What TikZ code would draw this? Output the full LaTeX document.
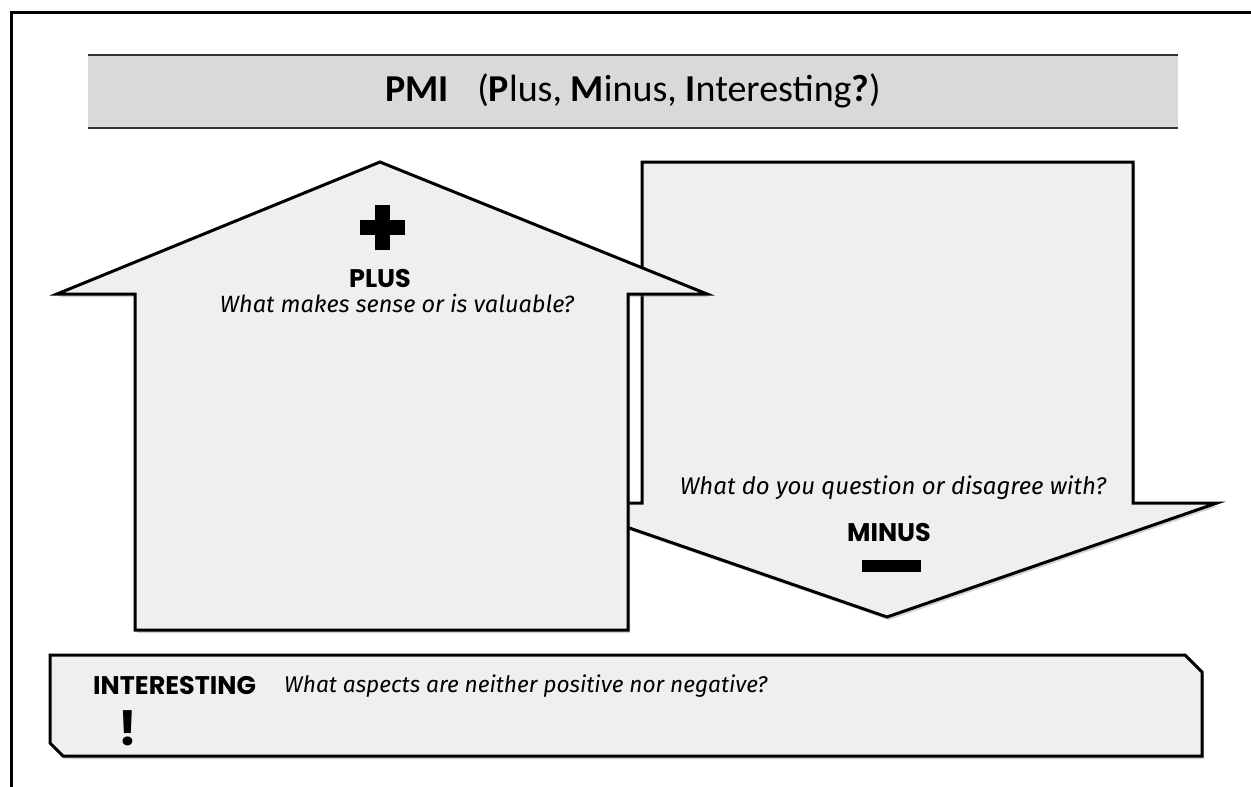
\documentclass[tikz,border=0pt]{standalone}
\usepackage{fontspec}
\setmainfont{Carlito}
\newfontfamily\capsfont{Poppins}
\newfontfamily\itfont{Fira Sans}
\usetikzlibrary{shadows}
\definecolor{panel}{HTML}{EFEFEF}
\definecolor{band}{HTML}{D9D9D9}
\tikzset{
  panelshape/.style={draw=black, line width=3pt, fill=panel, line join=miter,
    drop shadow={opacity=0.35, shadow xshift=2pt, shadow yshift=-3pt}},
  headtxt/.style={font=\capsfont\bfseries\fontsize{25.5}{30}\selectfont, inner sep=0pt},
  qtxt/.style={font=\itfont\itshape\fontsize{23.5}{28}\selectfont, inner sep=0pt},
}
\begin{document}
\begin{tikzpicture}[x=1pt, y=-1pt]
\useasboundingbox (0,0) rectangle (1251,787);
% frame
\draw[line width=3pt] (11,787) -- (11,12) -- (1251,12);
% title band
\fill[band] (88,55) rectangle (1178,128);
\draw[line width=2pt, black!80] (88,55) -- (1178,55);
\draw[line width=2pt, black!80] (88,128) -- (1178,128);
\node[inner sep=0pt, font=\fontsize{38}{44}\selectfont] (title) at (633,91)
  {\textbf{PMI}\hspace{0.75em}(\textbf{P}lus, \textbf{M}inus, \textbf{I}nteresting\textbf{?})};
% minus arrow (down)
\path[panelshape] (642,162) -- (1133,162) -- (1133,503) -- (1217,503) -- (887,617)
  -- (557,503) -- (642,503) -- cycle;
% plus arrow (up)
\path[panelshape] (380,162) -- (707,294) -- (628,294) -- (628,630) -- (135,630)
  -- (135,294) -- (57,294) -- cycle;
% interesting box
\path[panelshape] (50,655) -- (1185,655) -- (1202,672) -- (1202,756) -- (63,756)
  -- (50,743) -- cycle;
% plus sign
\fill[black] (375,205) rectangle (390,250);
\fill[black] (360,220) rectangle (405,235);
\node[headtxt] (plus) at (380,279) {PLUS};
\node[qtxt] (plusq) at (397,303) {What makes sense or is valuable?};
% minus
\node[qtxt, font=\itfont\itshape\fontsize{24}{28}\selectfont] (minusq) at (893,488) {What do you question or disagree with?};
\node[headtxt] (minus) at (889,533) {MINUS};
\fill[black] (862,560) rectangle (921,572);
% interesting
\node[headtxt, anchor=west] (inter) at (93,686) {INTERESTING};
\node[qtxt, anchor=west, font=\itfont\itshape\fontsize{22.7}{27}\selectfont] (interq) at (284,686) {What aspects are neither positive nor negative?};
\node[font=\capsfont\bfseries\fontsize{48}{56}\selectfont, inner sep=0pt] (bang) at (128,728) {!};
\end{tikzpicture}
\end{document}
